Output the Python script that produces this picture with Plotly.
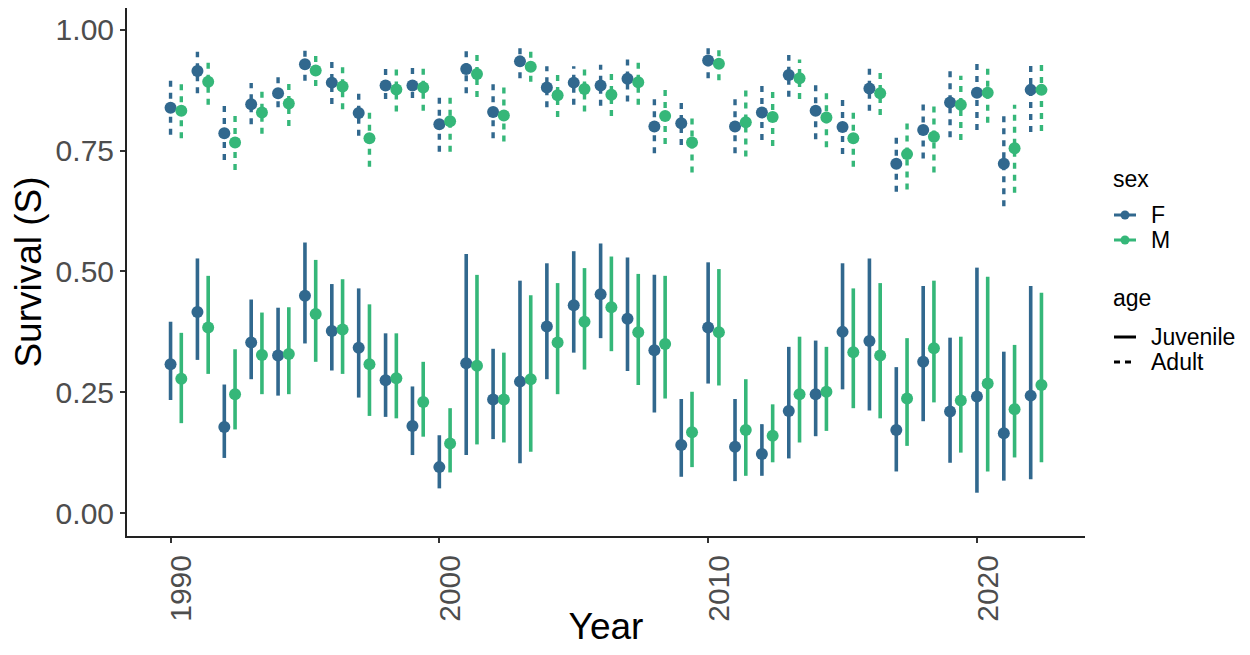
import plotly.graph_objects as go

years = list(range(1990, 2023))

# Juvenile (solid)
juv_F = [0.308, 0.416, 0.178, 0.353, 0.326, 0.450, 0.377, 0.342, 0.275, 0.180, 0.095,
         0.310, 0.235, 0.272, 0.386, 0.430, 0.453, 0.402, 0.337, 0.141, 0.384, 0.137,
         0.122, 0.211, 0.246, 0.375, 0.356, 0.172, 0.313, 0.210, 0.241, 0.165, 0.243]
juv_F_lo = [0.234, 0.317, 0.114, 0.277, 0.243, 0.351, 0.295, 0.239, 0.199, 0.120, 0.051,
            0.120, 0.153, 0.103, 0.277, 0.332, 0.362, 0.294, 0.208, 0.075, 0.268, 0.066,
            0.077, 0.113, 0.159, 0.256, 0.212, 0.086, 0.190, 0.104, 0.042, 0.067, 0.070]
juv_F_hi = [0.396, 0.527, 0.266, 0.442, 0.425, 0.560, 0.474, 0.465, 0.372, 0.262, 0.161,
            0.536, 0.340, 0.481, 0.517, 0.542, 0.558, 0.529, 0.493, 0.236, 0.519, 0.236,
            0.184, 0.344, 0.357, 0.517, 0.527, 0.302, 0.470, 0.363, 0.508, 0.334, 0.470]

juv_M = [0.278, 0.384, 0.246, 0.327, 0.329, 0.412, 0.380, 0.308, 0.279, 0.230, 0.144,
         0.305, 0.235, 0.277, 0.353, 0.396, 0.426, 0.374, 0.350, 0.167, 0.374, 0.172,
         0.160, 0.246, 0.251, 0.333, 0.326, 0.237, 0.341, 0.233, 0.268, 0.215, 0.265]
juv_M_lo = [0.186, 0.288, 0.173, 0.246, 0.246, 0.313, 0.288, 0.201, 0.196, 0.158, 0.084,
            0.142, 0.146, 0.127, 0.246, 0.297, 0.335, 0.265, 0.237, 0.095, 0.264, 0.077,
            0.105, 0.146, 0.170, 0.217, 0.196, 0.139, 0.229, 0.125, 0.086, 0.115, 0.105]
juv_M_hi = [0.373, 0.491, 0.339, 0.415, 0.426, 0.524, 0.484, 0.432, 0.372, 0.313, 0.217,
            0.493, 0.332, 0.451, 0.476, 0.507, 0.531, 0.495, 0.491, 0.251, 0.505, 0.277,
            0.225, 0.365, 0.344, 0.465, 0.476, 0.362, 0.481, 0.365, 0.489, 0.348, 0.456]

# Adult (dashed)
ad_F = [0.839, 0.915, 0.786, 0.846, 0.869, 0.929, 0.891, 0.828, 0.885, 0.885, 0.805,
        0.919, 0.830, 0.935, 0.881, 0.891, 0.885, 0.899, 0.800, 0.807, 0.937, 0.800,
        0.829, 0.907, 0.833, 0.799, 0.879, 0.723, 0.793, 0.850, 0.870, 0.723, 0.876]
ad_F_lo = [0.783, 0.869, 0.731, 0.805, 0.840, 0.895, 0.847, 0.781, 0.857, 0.859, 0.748,
           0.869, 0.776, 0.900, 0.840, 0.845, 0.843, 0.852, 0.745, 0.762, 0.900, 0.745,
           0.772, 0.862, 0.774, 0.743, 0.833, 0.665, 0.734, 0.778, 0.793, 0.635, 0.789]
ad_F_hi = [0.907, 0.955, 0.848, 0.890, 0.907, 0.959, 0.934, 0.876, 0.925, 0.925, 0.863,
           0.962, 0.890, 0.967, 0.925, 0.925, 0.928, 0.945, 0.865, 0.855, 0.967, 0.863,
           0.893, 0.948, 0.893, 0.865, 0.925, 0.789, 0.855, 0.918, 0.936, 0.831, 0.937]

ad_M = [0.833, 0.893, 0.767, 0.829, 0.848, 0.916, 0.883, 0.776, 0.877, 0.881, 0.811,
        0.909, 0.823, 0.924, 0.865, 0.878, 0.866, 0.892, 0.822, 0.767, 0.930, 0.809,
        0.820, 0.900, 0.819, 0.776, 0.869, 0.743, 0.779, 0.845, 0.870, 0.755, 0.876]
ad_M_lo = [0.776, 0.845, 0.710, 0.785, 0.801, 0.884, 0.836, 0.717, 0.831, 0.833, 0.748,
           0.861, 0.769, 0.893, 0.820, 0.831, 0.822, 0.845, 0.764, 0.705, 0.896, 0.738,
           0.760, 0.857, 0.757, 0.717, 0.824, 0.670, 0.705, 0.772, 0.808, 0.663, 0.791]
ad_M_hi = [0.899, 0.940, 0.832, 0.879, 0.893, 0.952, 0.931, 0.840, 0.921, 0.922, 0.867,
           0.955, 0.882, 0.959, 0.914, 0.924, 0.916, 0.938, 0.879, 0.829, 0.962, 0.877,
           0.884, 0.939, 0.879, 0.841, 0.918, 0.819, 0.848, 0.905, 0.931, 0.845, 0.934]

y_ticks = [0.0, 0.25, 0.5, 0.75, 1.0]
y_tick_labels = ["0.00", "0.25", "0.50", "0.75", "1.00"]
x_ticks = [1990, 2000, 2010, 2020]

COL_F = "#31688E"
COL_M = "#35B779"
DODGE = 0.4
FONT = "Liberation Sans, Arial, sans-serif"

fig = go.Figure()


def seg(xs, lo, hi):
    X, Y = [], []
    for x, a, b in zip(xs, lo, hi):
        X += [x, x, None]
        Y += [a, b, None]
    return X, Y


groups = [
    (years, juv_F, juv_F_lo, juv_F_hi, COL_F, "solid"),
    (years, ad_F, ad_F_lo, ad_F_hi, COL_F, "6px,6px"),
    ([y + DODGE for y in years], juv_M, juv_M_lo, juv_M_hi, COL_M, "solid"),
    ([y + DODGE for y in years], ad_M, ad_M_lo, ad_M_hi, COL_M, "6px,6px"),
]

for xs, est, lo, hi, col, dash in groups:
    X, Y = seg(xs, lo, hi)
    fig.add_trace(go.Scatter(x=X, y=Y, mode="lines", showlegend=False,
                             line=dict(color=col, width=3.6 if dash == "solid" else 3.4, dash=dash),
                             hoverinfo="skip"))
    fig.add_trace(go.Scatter(x=xs, y=est, mode="markers", showlegend=False,
                             marker=dict(color=col, size=12, line=dict(width=0))))

# page offset (default body margin of the html page)
OFF = 8
W, H = 1250 - 2 * OFF, 655 - 2 * OFF
# plot area in page pixels
L, R, T, B = 127, 1085, 8, 536


def px(xp):
    return (xp - L) / (R - L)


def py(yp):
    return (B - yp) / (B - T)


legend_font = dict(family=FONT, size=23, color="black")
ann = []
shapes = []
ann.append(dict(text="sex", x=px(1111), y=py(179), xref="paper", yref="paper",
                xanchor="left", yanchor="middle", showarrow=False, font=legend_font))
ann.append(dict(text="age", x=px(1111), y=py(298), xref="paper", yref="paper",
                xanchor="left", yanchor="middle", showarrow=False, font=legend_font))
for label, yc, col in [("F", 215, COL_F), ("M", 240, COL_M)]:
    ann.append(dict(text=label, x=px(1149), y=py(yc), xref="paper", yref="paper",
                    xanchor="left", yanchor="middle", showarrow=False, font=legend_font))
    shapes.append(dict(type="line", xref="paper", yref="paper", x0=px(1114), x1=px(1136),
                       y0=py(yc), y1=py(yc), line=dict(color=col, width=3)))
    shapes.append(dict(type="circle", xref="paper", yref="paper", x0=px(1120.5), x1=px(1129.5),
                       y0=py(yc + 4.5), y1=py(yc - 4.5), fillcolor=col, line=dict(width=0)))
for label, yc, dash in [("Juvenile", 337, "solid"), ("Adult", 362, "6px,5px")]:
    ann.append(dict(text=label, x=px(1149), y=py(yc), xref="paper", yref="paper",
                    xanchor="left", yanchor="middle", showarrow=False, font=legend_font))
    shapes.append(dict(type="line", xref="paper", yref="paper", x0=px(1114), x1=px(1136),
                       y0=py(yc), y1=py(yc), line=dict(color="black", width=3, dash=dash)))

fig.update_layout(
    width=W, height=H,
    margin=dict(l=L - OFF, r=W - (R - OFF), t=T - OFF, b=H - (B - OFF), autoexpand=False),
    plot_bgcolor="white", paper_bgcolor="white",
    font=dict(family=FONT),
    showlegend=False,
    annotations=ann,
    shapes=shapes,
    xaxis=dict(range=[1988.38, 2024.02], tickvals=x_ticks, tickangle=-90,
               automargin=True, ticklabelshift=11,
               showline=True, linecolor="#222222", linewidth=2,
               ticks="outside", ticklen=5, tickwidth=2, tickcolor="#333333",
               tickfont=dict(family=FONT, size=30, color="#4D4D4D"),
               showgrid=False, zeroline=False,
               title=dict(text="Year", font=dict(family=FONT, size=37, color="black"), standoff=6)),
    yaxis=dict(range=[-0.0476, 1.0455], tickvals=y_ticks, ticktext=y_tick_labels,
               automargin=False,
               showline=True, linecolor="#222222", linewidth=2,
               ticks="outside", ticklen=5, tickwidth=2, tickcolor="#333333",
               tickfont=dict(family=FONT, size=30, color="#4D4D4D"),
               showgrid=False, zeroline=False,
               title=dict(text="Survival (S)", font=dict(family=FONT, size=37, color="black"), standoff=8)),
)

fig.write_html("out.html")
